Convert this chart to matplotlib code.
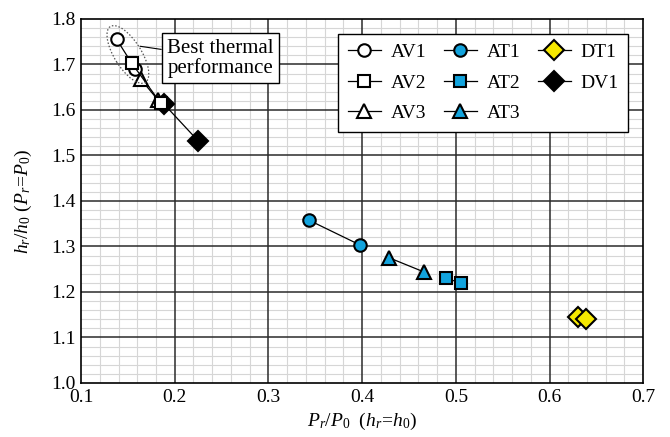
import matplotlib
matplotlib.use("Agg")
import matplotlib.pyplot as plt
from matplotlib.patches import Ellipse
from matplotlib.transforms import ScaledTranslation
from matplotlib.ticker import MultipleLocator, FormatStrFormatter

plt.rcParams['font.family'] = ['Liberation Serif', 'DejaVu Serif']
plt.rcParams['mathtext.fontset'] = 'custom'
plt.rcParams['mathtext.rm'] = 'Liberation Serif'
plt.rcParams['mathtext.it'] = 'Liberation Serif:italic'

# series data: (P_r/P_0, h_r/h_0)
av1_x = [0.138, 0.158]
av1_y = [1.755, 1.690]
av2_x = [0.154, 0.185]
av2_y = [1.703, 1.615]
av3_x = [0.164, 0.182]
av3_y = [1.667, 1.622]
at1_x = [0.343, 0.398]
at1_y = [1.358, 1.303]
at2_x = [0.490, 0.505]
at2_y = [1.231, 1.219]
at3_x = [0.429, 0.466]
at3_y = [1.275, 1.244]
dt1_x = [0.630, 0.639]
dt1_y = [1.145, 1.141]
dv1_x = [0.188, 0.225]
dv1_y = [1.614, 1.532]

BLUE = '#12a3dd'
YELLOW = '#f5e800'

fig = plt.figure(figsize=(6.7, 4.37), dpi=100)
ax = fig.add_axes([0.121, 0.1236, 0.839, 0.833])

common = dict(color='black', linewidth=0.9, markeredgecolor='black', markeredgewidth=1.5)

h = {}
h['DV1'], = ax.plot(dv1_x, dv1_y, marker='D', markersize=10.5, markerfacecolor='black', label='DV1', **common)
h['AV1'], = ax.plot(av1_x, av1_y, marker='o', markersize=9, markerfacecolor='white', label='AV1', **common)
h['AV3'], = ax.plot(av3_x, av3_y, marker='^', markersize=9.5, markerfacecolor='white', label='AV3', **common)
h['AV2'], = ax.plot(av2_x, av2_y, marker='s', markersize=9, markerfacecolor='white', label='AV2', **common)
h['AT1'], = ax.plot(at1_x, at1_y, marker='o', markersize=9, markerfacecolor=BLUE, label='AT1', **common)
h['AT2'], = ax.plot(at2_x, at2_y, marker='s', markersize=9, markerfacecolor=BLUE, label='AT2', **common)
h['AT3'], = ax.plot(at3_x, at3_y, marker='^', markersize=9.5, markerfacecolor=BLUE, label='AT3', **common)
h['DT1'], = ax.plot(dt1_x, dt1_y, marker='D', markersize=10.5, markerfacecolor=YELLOW, label='DT1', **common)

ax.set_xlim(0.1, 0.7)
ax.set_ylim(1.0, 1.8)
ax.xaxis.set_major_locator(MultipleLocator(0.1))
ax.xaxis.set_minor_locator(MultipleLocator(0.02))
ax.yaxis.set_major_locator(MultipleLocator(0.1))
ax.yaxis.set_minor_locator(MultipleLocator(0.02))
ax.xaxis.set_major_formatter(FormatStrFormatter('%.1f'))
ax.yaxis.set_major_formatter(FormatStrFormatter('%.1f'))
ax.tick_params(which='both', length=0, labelsize=14, pad=4)

# light minor grid, solid dark major grid drawn above it
ax.grid(which='minor', color='#d6d6d6', linewidth=0.8)
ax.set_axisbelow(True)
xt = [t for t in ax.get_xticks() if 0.1 < t < 0.7]
yt = [t for t in ax.get_yticks() if 1.0 < t < 1.8]
ax.vlines(xt, 1.0, 1.8, colors='#2b2b2b', linewidth=1.1, zorder=0.8)
ax.hlines(yt, 0.1, 0.7, colors='#2b2b2b', linewidth=1.1, zorder=0.8)
for s in ax.spines.values():
    s.set_color('black')
    s.set_linewidth(1.2)

ax.set_xlabel(r'$P_r/P_\mathit{0}\ \ (h_r\!=\!h_\mathit{0})$', fontsize=14, labelpad=4)
ax.set_ylabel(r'$h_r/h_\mathit{0}\ (P_r\!=\!P_\mathit{0})$', fontsize=14, labelpad=12)

order = ['AV1', 'AV2', 'AV3', 'AT1', 'AT2', 'AT3', 'DT1', 'DV1']
leg = ax.legend([h[k] for k in order], order, ncol=3, loc='upper right',
                bbox_to_anchor=(0.9733, 0.9588), fontsize=14, frameon=True,
                fancybox=False, edgecolor='black', framealpha=1,
                handlelength=1.7, columnspacing=0.9, handletextpad=0.5,
                labelspacing=0.65, borderpad=0.5, borderaxespad=0)
leg.get_frame().set_linewidth(1.0)

# dotted ellipse around best points
etrans = fig.dpi_scale_trans + ScaledTranslation(0.150, 1.722, ax.transData)
ell = Ellipse((0, 0), 0.66, 0.27, angle=-58, transform=etrans, fill=False,
              linestyle=(0, (1.2, 1.5)), edgecolor='#555555', linewidth=0.9, zorder=5)
ax.add_patch(ell)

ax.annotate('Best thermal\nperformance', xy=(0.163, 1.740), xytext=(0.2485, 1.714),
            fontsize=15, ha='center', va='center', linespacing=1.0,
            bbox=dict(boxstyle='square,pad=0.25', facecolor='white', edgecolor='black', linewidth=1.0),
            arrowprops=dict(arrowstyle='-', color='black', linewidth=0.8, shrinkA=0, shrinkB=0),
            zorder=6)

fig.savefig('out.png', dpi=100)
